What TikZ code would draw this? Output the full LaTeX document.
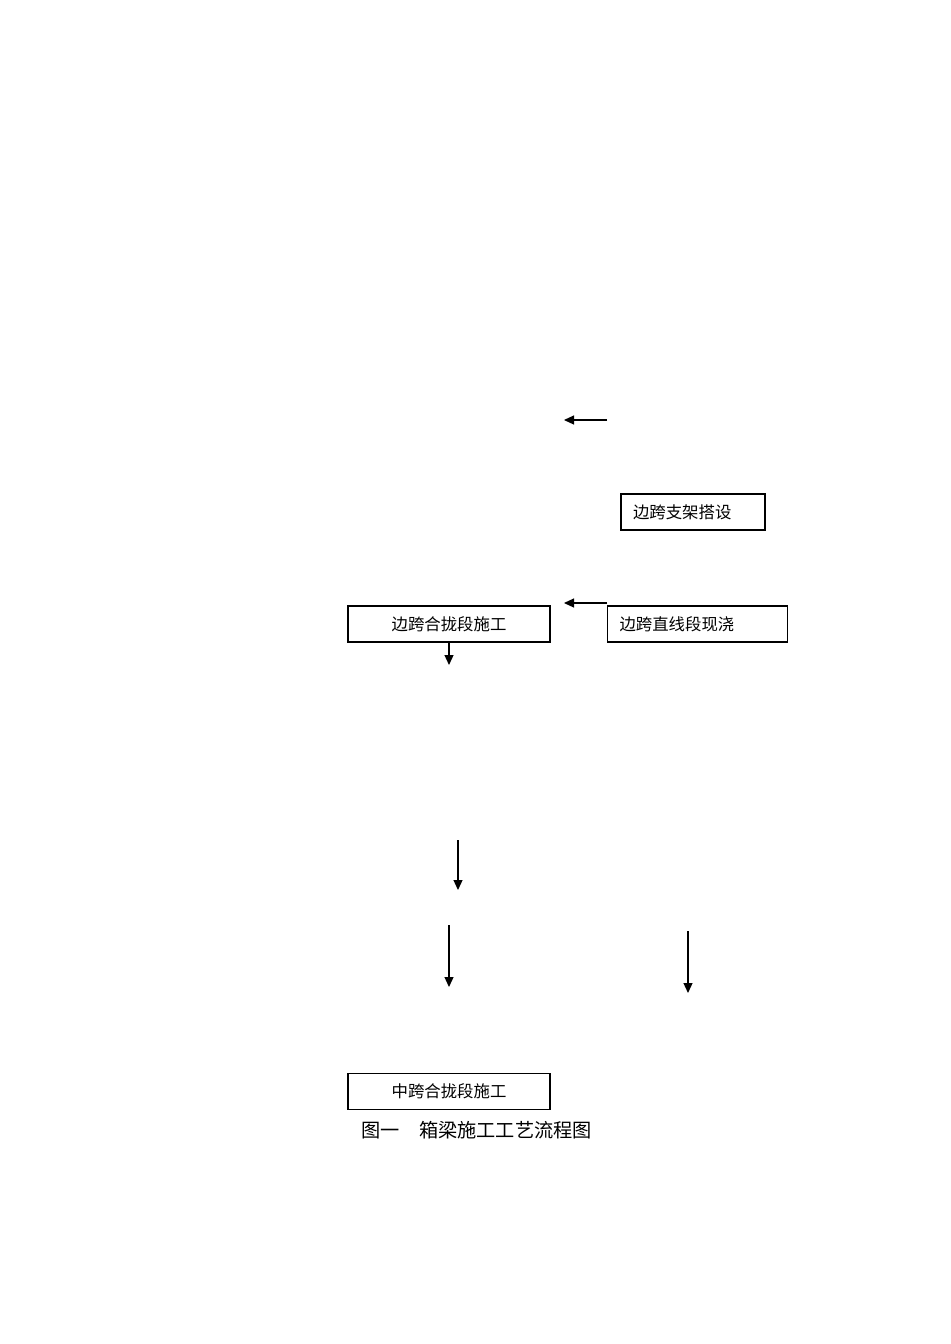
\documentclass[tikz,border=0pt]{standalone}
\usepackage{fontspec}
\newfontfamily\cjk{Noto Sans CJK SC}
\usetikzlibrary{arrows.meta}

\begin{document}
\begin{tikzpicture}[x=0.5pt,y=-0.5pt,
    box/.style = {rectangle,draw=black,line width=0.6pt,minimum height=18pt,outer sep=0mm,inner sep=0pt,font=\cjk\fontsize{8.2}{9}\selectfont},
    lbox/.style = {box,align=left,inner xsep=6pt},
    flow/.style = {-{Triangle[length=5pt,width=4.5pt]},line width=0.6pt}]
\useasboundingbox (0,0) rectangle (950,1344);
\node[lbox,text width=60pt] (support) at (693,512) {边跨支架搭设};
\node[box,minimum width=101pt] (sidejoin) at (449,624) {边跨合拢段施工};
\node[lbox,text width=78pt] (sidecast) at (697.5,624) {边跨直线段现浇};
\node[box,minimum width=101pt] (midjoin) at (449,1091.5) {中跨合拢段施工};
\node[anchor=west,inner sep=0pt,font=\cjk\fontsize{9.6}{10}\selectfont] (caption) at (361,1130) {图一　箱梁施工工艺流程图};
\coordinate (down) at (449,665);
\draw[flow] (sidejoin.south) -- (down);
\foreach \a/\b/\c/\d [count=\k] in {607/420/564/420, 607/603/564/603, 458/840/458/890, 449/925/449/987, 688/931/688/993}
{
    \coordinate (s\k) at (\a,\b);
    \coordinate (e\k) at (\c,\d);
    \draw[flow] (s\k) -- (e\k);
}
\end{tikzpicture}
\end{document}
